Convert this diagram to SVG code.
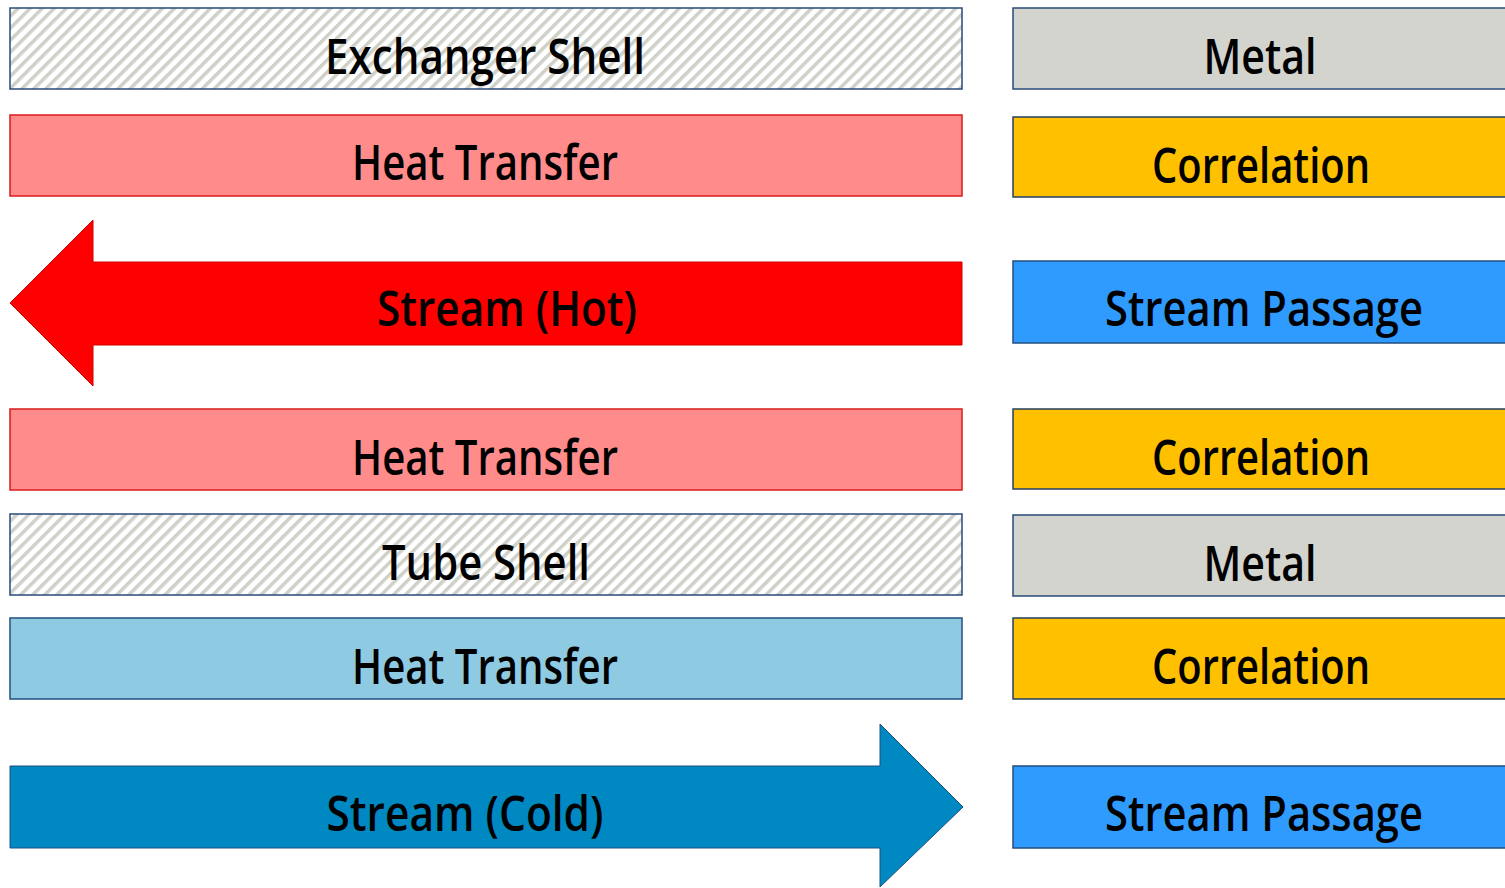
<svg xmlns="http://www.w3.org/2000/svg" width="1505" height="888" viewBox="0 0 1505 888">
<defs>
<pattern id="hatch" width="8.5" height="8.5" patternUnits="userSpaceOnUse" patternTransform="rotate(45)">
<rect width="8.5" height="8.5" fill="#ffffff"/>
<rect x="0" y="0" width="3.5" height="8.5" fill="#cfd1c9"/>
</pattern>
<style>
.lbl{font-family:"Open Sans","DejaVu Sans",sans-serif;font-weight:600;font-size:49px;fill:#000;text-anchor:middle}
.shell{fill:url(#hatch);stroke:#2a4a78;stroke-width:1.5}
.metal{fill:#d2d4cd;stroke:#2a4a78;stroke-width:1.5}
.corr{fill:#ffc000;stroke:#243f62;stroke-width:1.5}
.pass{fill:#2f9bff;stroke:#234f80;stroke-width:1.5}
.htred{fill:#ff8b8b;stroke:#d91c1c;stroke-width:1.5}
.htblue{fill:#8ecae2;stroke:#234f80;stroke-width:1.5}
</style>
</defs>
<rect width="1505" height="888" fill="#ffffff"/>

<g id="exchanger-shell">
<rect class="shell" x="10" y="8" width="952" height="81"/>
<text class="lbl" x="485" y="74" textLength="320" lengthAdjust="spacingAndGlyphs">Exchanger Shell</text>
</g>
<g id="heat-transfer-1">
<rect class="htred" x="10" y="115" width="952" height="81"/>
<text class="lbl" x="485" y="180" textLength="266" lengthAdjust="spacingAndGlyphs">Heat Transfer</text>
</g>
<g id="stream-hot">
<polygon points="962,262 962,345 93,345 93,386 10,303 93,220 93,262" fill="#ff0000" stroke="#d00000" stroke-width="1"/>
<text class="lbl" x="507" y="326" textLength="260" lengthAdjust="spacingAndGlyphs">Stream (Hot)</text>
</g>
<g id="heat-transfer-2">
<rect class="htred" x="10" y="409" width="952" height="81"/>
<text class="lbl" x="485" y="475" textLength="266" lengthAdjust="spacingAndGlyphs">Heat Transfer</text>
</g>
<g id="tube-shell">
<rect class="shell" x="10" y="514" width="952" height="81"/>
<text class="lbl" x="486" y="580" textLength="208" lengthAdjust="spacingAndGlyphs">Tube Shell</text>
</g>
<g id="heat-transfer-3">
<rect class="htblue" x="10" y="618" width="952" height="81"/>
<text class="lbl" x="485" y="684" textLength="266" lengthAdjust="spacingAndGlyphs">Heat Transfer</text>
</g>
<g id="stream-cold">
<polygon points="10,766 880,766 880,724 963,807 880,887 880,848 10,848" fill="#0088c2" stroke="#1f4f7f" stroke-width="1"/>
<text class="lbl" x="465" y="831" textLength="277" lengthAdjust="spacingAndGlyphs">Stream (Cold)</text>
</g>

<g id="metal-1">
<rect class="metal" x="1013" y="8" width="500" height="81"/>
<text class="lbl" x="1260" y="74" textLength="113" lengthAdjust="spacingAndGlyphs">Metal</text>
</g>
<g id="correlation-1">
<rect class="corr" x="1013" y="117" width="500" height="80"/>
<text class="lbl" x="1261" y="183" textLength="218" lengthAdjust="spacingAndGlyphs">Correlation</text>
</g>
<g id="stream-passage-1">
<rect class="pass" x="1013" y="261" width="500" height="82"/>
<text class="lbl" x="1264" y="326" textLength="318" lengthAdjust="spacingAndGlyphs">Stream Passage</text>
</g>
<g id="correlation-2">
<rect class="corr" x="1013" y="409" width="500" height="80"/>
<text class="lbl" x="1261" y="475" textLength="218" lengthAdjust="spacingAndGlyphs">Correlation</text>
</g>
<g id="metal-2">
<rect class="metal" x="1013" y="515" width="500" height="81"/>
<text class="lbl" x="1260" y="581" textLength="113" lengthAdjust="spacingAndGlyphs">Metal</text>
</g>
<g id="correlation-3">
<rect class="corr" x="1013" y="618" width="500" height="81"/>
<text class="lbl" x="1261" y="684" textLength="218" lengthAdjust="spacingAndGlyphs">Correlation</text>
</g>
<g id="stream-passage-2">
<rect class="pass" x="1013" y="766" width="500" height="82"/>
<text class="lbl" x="1264" y="831" textLength="318" lengthAdjust="spacingAndGlyphs">Stream Passage</text>
</g>

<g id="connectors"></g>
</svg>
